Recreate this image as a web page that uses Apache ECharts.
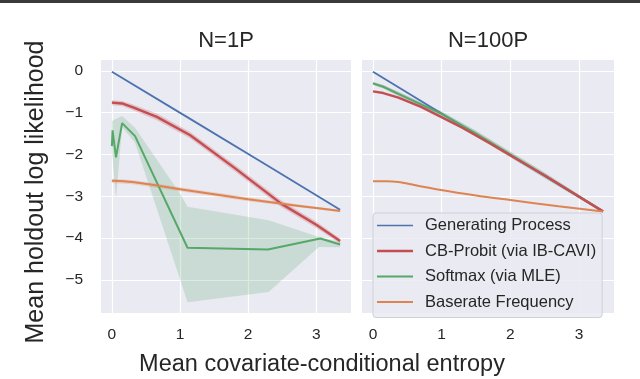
<!DOCTYPE html>
<html>
<head>
<meta charset="utf-8">
<title>Mean holdout log likelihood</title>
<script src="https://cdn.jsdelivr.net/npm/echarts@6/dist/echarts.min.js"></script>
<style>
  html, body { margin: 0; padding: 0; background: #fff; }
  #chart { width: 640px; height: 379px; }
</style>
</head>
<body>
<div id="chart"></div>
<script>
const panelTitles = ["N=1P", "N=100P"];
const seriesNames = ["Generating Process", "CB-Probit (via IB-CAVI)", "Softmax (via MLE)", "Baserate Frequency"];
const seriesColors = ["#4c72b0", "#c44e52", "#55a868", "#dd8452"];

// N=1P panel
const genX1 = [0, 1.1, 2.3, 3.35];
const genY1 = [-0.02, -1.1, -2.28, -3.32];
const probitX1 = [0, 0.15, 0.32, 0.66, 1.15, 1.8, 2.49, 3.0, 3.35];
const probitY1 = [-0.76, -0.78, -0.88, -1.1, -1.54, -2.32, -3.18, -3.68, -4.07];
const probitLo1 = [-0.82, -0.84, -0.95, -1.18, -1.62, -2.4, -3.26, -3.76, -4.13];
const probitHi1 = [-0.7, -0.72, -0.81, -1.02, -1.46, -2.24, -3.1, -3.6, -4.01];
const softmaxX1 = [0, 0.01, 0.06, 0.15, 0.34, 1.11, 2.29, 3.06, 3.35];
const softmaxY1 = [-1.8, -1.42, -2.07, -1.25, -1.56, -4.23, -4.27, -4.01, -4.15];
const softmaxBandX1 = [0, 0.06, 0.15, 0.34, 1.0, 1.11, 2.3, 3.04, 3.35];
const softmaxBandLo1 = [-1.9, -3.05, -1.35, -1.72, -4.98, -5.53, -5.29, -4.21, -4.22];
const softmaxBandHi1 = [-1.2, -1.15, -1.08, -1.36, -2.93, -3.25, -3.57, -3.97, -4.1];
const baseX1 = [0, 0.3, 1.0, 1.5, 2.0, 2.5, 3.0, 3.35];
const baseY1 = [-2.63, -2.66, -2.83, -2.95, -3.07, -3.18, -3.28, -3.35];
const baseLo1 = [-2.68, -2.71, -2.88, -3.0, -3.12, -3.22, -3.31, -3.38];
const baseHi1 = [-2.58, -2.61, -2.78, -2.9, -3.02, -3.14, -3.25, -3.32];

// N=100P panel
const genX2 = [0, 1.1, 2.3, 3.35];
const genY2 = [-0.02, -1.12, -2.31, -3.36];
const probitX2 = [0, 0.15, 0.37, 0.7, 0.99, 1.3, 1.7, 2.5, 3.35];
const probitY2 = [-0.49, -0.53, -0.64, -0.86, -1.1, -1.36, -1.73, -2.5, -3.36];
const softmaxX2 = [0, 0.15, 0.37, 0.7, 1.0, 1.5, 2.5, 3.35];
const softmaxY2 = [-0.3, -0.38, -0.55, -0.8, -1.03, -1.5, -2.5, -3.36];
const softmaxLo2 = [-0.34, -0.42, -0.6, -0.85, -1.09, -1.57, -2.57, -3.39];
const softmaxHi2 = [-0.26, -0.34, -0.5, -0.75, -0.97, -1.43, -2.43, -3.33];
const baseX2 = [0, 0.2, 0.37, 0.6, 0.99, 1.5, 2.0, 2.7, 3.35];
const baseY2 = [-2.64, -2.64, -2.66, -2.73, -2.85, -2.98, -3.09, -3.24, -3.36];

const FONT = "'Liberation Sans', Arial, sans-serif";
const TEXT = "#262626";
const legendIcons = [
  "path://M0,0H36V1.6H0Z",
  "path://M0,0H36V2.6H0Z",
  "path://M0,0H36V2H0Z",
  "path://M0,0H36V2H0Z"
];

function pairs(xs, ys) {
  return xs.map((x, i) => [x, ys[i]]);
}

function lineSeries(name, xs, ys, color, width, idx, smooth) {
  return {
    name, type: "line", xAxisIndex: idx, yAxisIndex: idx,
    data: pairs(xs, ys), symbol: "none", silent: true, z: 3, smooth: smooth || false,
    lineStyle: { color, width }, itemStyle: { color }
  };
}

// shaded interval drawn as one polygon through the axes' own coord()
function bandSeries(xs, lo, hi, color, opacity, idx) {
  return {
    type: "custom", xAxisIndex: idx, yAxisIndex: idx, silent: true, z: 2,
    data: xs.map((x, i) => [x, lo[i], hi[i]]),
    encode: { x: 0, y: [1, 2] },
    renderItem: (params, api) => {
      if (params.dataIndex !== 0) return null;
      const top = xs.map((x, i) => api.coord([x, hi[i]]));
      const bottom = xs.map((x, i) => api.coord([x, lo[i]])).reverse();
      return {
        type: "polygon",
        shape: { points: top.concat(bottom) },
        style: { fill: color, opacity }
      };
    }
  };
}

function xAxis(idx) {
  return {
    type: "value", gridIndex: idx, min: -0.16, max: 3.51, minInterval: 1, maxInterval: 1,
    axisLine: { show: false }, axisTick: { show: false },
    axisLabel: { color: TEXT, fontSize: 15.5, fontFamily: FONT, margin: 14, showMinLabel: false, showMaxLabel: false },
    splitLine: { lineStyle: { color: "#ffffff", width: 1.2 }, showMinLine: false, showMaxLine: false }
  };
}

function yAxis(idx) {
  return {
    type: "value", gridIndex: idx, min: -5.79, max: 0.26, minInterval: 1, maxInterval: 1,
    axisLine: { show: false }, axisTick: { show: false },
    axisLabel: {
      show: idx === 0, color: TEXT, fontSize: 15.5, fontFamily: FONT, margin: 18,
      showMinLabel: false, showMaxLabel: false,
      formatter: v => String(v).replace("-", "\u2212")
    },
    splitLine: { lineStyle: { color: "#ffffff", width: 1.2 }, showMinLine: false, showMaxLine: false }
  };
}

const chart = echarts.init(document.getElementById("chart"), null, { renderer: "canvas" });

const series = [
  bandSeries(softmaxBandX1, softmaxBandLo1, softmaxBandHi1, seriesColors[2], 0.22, 0),
  bandSeries(probitX1, probitLo1, probitHi1, seriesColors[1], 0.25, 0),
  bandSeries(baseX1, baseLo1, baseHi1, seriesColors[3], 0.25, 0),
  bandSeries(softmaxX2, softmaxLo2, softmaxHi2, "#4a7a55", 0.3, 1),
  lineSeries(seriesNames[0], genX1, genY1, seriesColors[0], 1.8, 0),
  lineSeries(seriesNames[1], probitX1, probitY1, seriesColors[1], 2.4, 0),
  lineSeries(seriesNames[2], softmaxX1, softmaxY1, seriesColors[2], 2, 0),
  lineSeries(seriesNames[3], baseX1, baseY1, seriesColors[3], 2, 0, 0.3),
  lineSeries(seriesNames[0], genX2, genY2, seriesColors[0], 1.8, 1),
  lineSeries(seriesNames[2], softmaxX2, softmaxY2, seriesColors[2], 2, 1),
  lineSeries(seriesNames[1], probitX2, probitY2, seriesColors[1], 2.4, 1),
  lineSeries(seriesNames[3], baseX2, baseY2, seriesColors[3], 2, 1, 0.3)
];

chart.setOption({
  animation: false,
  backgroundColor: "#ffffff",
  textStyle: { fontFamily: FONT },
  grid: [
    { left: 101, top: 60, width: 250, height: 253, show: true, backgroundColor: "#eaeaf2", borderWidth: 0 },
    { left: 362, top: 60, width: 252, height: 253, show: true, backgroundColor: "#eaeaf2", borderWidth: 0 }
  ],
  xAxis: [xAxis(0), xAxis(1)],
  yAxis: [yAxis(0), yAxis(1)],
  legend: {
    data: seriesNames.map((name, i) => ({ name, icon: legendIcons[i] })),
    orient: "vertical",
    left: 373, top: 213,
    padding: [4, 6, 7, 4],
    itemWidth: 36, itemHeight: 14, itemGap: 8.5,
    backgroundColor: "rgba(234,234,242,0.85)",
    borderColor: "#cfcfd6", borderWidth: 1, borderRadius: 3,
    selectedMode: false,
    itemStyle: { borderWidth: 0 },
    textStyle: { color: TEXT, fontSize: 16.5, fontFamily: FONT, lineHeight: 16, padding: [0, 0, 0, 7] }
  },
  graphic: [
    { type: "rect", left: 0, top: 0, shape: { width: 640, height: 3 }, style: { fill: "#3a3a3a" } },
    { type: "text", x: 226, y: 41, style: { text: panelTitles[0], fill: TEXT, font: `22px ${FONT}`, align: "center", verticalAlign: "middle" } },
    { type: "text", x: 488, y: 41, style: { text: panelTitles[1], fill: TEXT, font: `22px ${FONT}`, align: "center", verticalAlign: "middle" } },
    { type: "text", x: 322, y: 365, style: { text: "Mean covariate-conditional entropy", fill: TEXT, font: `23.5px ${FONT}`, align: "center", verticalAlign: "middle" } },
    { type: "text", x: 36, y: 192, rotation: Math.PI / 2, style: { text: "Mean holdout log likelihood", fill: TEXT, font: `25px ${FONT}`, align: "center", verticalAlign: "middle" } }
  ],
  series
});
</script>
</body>
</html>
